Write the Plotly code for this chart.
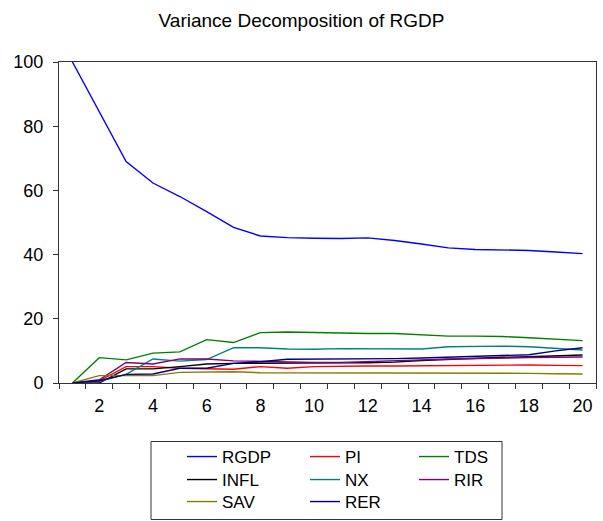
import plotly.graph_objects as go

periods = list(range(1, 21))
RGDP = [100, 84.6, 69.0, 62.3, 58.1, 53.4, 48.5, 45.8, 45.3, 45.1, 45.0, 45.2, 44.4, 43.3, 42.1, 41.6, 41.4, 41.3, 40.8, 40.3]
PI = [0, 0.7, 5.1, 5.1, 4.6, 4.4, 4.3, 5.1, 4.6, 5.1, 5.3, 5.3, 5.3, 5.4, 5.5, 5.6, 5.6, 5.6, 5.5, 5.4]
TDS = [0, 7.9, 7.2, 9.3, 9.7, 13.5, 12.6, 15.7, 15.9, 15.7, 15.5, 15.4, 15.4, 15.0, 14.6, 14.6, 14.5, 14.1, 13.7, 13.2]
INFL = [0, 0, 4.4, 4.4, 5.1, 5.9, 6.1, 6.2, 6.3, 6.3, 6.3, 6.3, 6.5, 7.0, 7.4, 7.8, 8.0, 8.2, 8.4, 8.7]
NX = [0, 0.5, 2.7, 7.5, 6.8, 7.3, 11.0, 11.0, 10.6, 10.5, 10.7, 10.7, 10.7, 10.6, 11.3, 11.5, 11.5, 11.3, 10.8, 10.3]
RIR = [0, 1.0, 6.4, 5.9, 7.5, 7.5, 6.9, 6.7, 6.4, 6.4, 6.4, 6.6, 6.8, 7.2, 7.5, 7.7, 7.8, 7.9, 8.0, 8.1]
SAV = [0, 2.3, 2.3, 2.3, 3.3, 3.3, 3.5, 3.2, 3.2, 3.2, 3.2, 3.1, 3.1, 3.0, 3.0, 3.0, 3.0, 3.0, 2.9, 2.8]
RER = [0, 0.7, 2.7, 2.8, 4.6, 4.6, 6.1, 6.6, 7.4, 7.4, 7.4, 7.4, 7.6, 7.8, 8.0, 8.2, 8.4, 8.8, 10.0, 11.0]

series = [
    ("RGDP", RGDP, "#0000FF"),
    ("PI", PI, "#FF0000"),
    ("TDS", TDS, "#008000"),
    ("INFL", INFL, "#000000"),
    ("NX", NX, "#008080"),
    ("RIR", RIR, "#800080"),
    ("SAV", SAV, "#808000"),
    ("RER", RER, "#000080"),
]

x_labels = list(range(2, 21, 2))
y_ticks = [0, 20, 40, 60, 80, 100]

W, H = 603, 521
L, R, T, B = 59, 7, 62, 138
PW, PH = W - L - R, H - T - B
font = "Arial, Liberation Sans, sans-serif"

# legend grid (3 columns, row-major): text left x and row centre y in pixels
col_text_x = [222, 345, 454]
row_center_y = [457, 480, 502]

fig = go.Figure()
legends = {}
for i, (name, vals, color) in enumerate(series):
    lid = "legend" if i == 0 else f"legend{i + 1}"
    r, c = divmod(i, 3)
    legends[lid] = dict(orientation="v", xref="paper", yref="paper",
                        x=(col_text_x[c] - 40 - L) / PW, xanchor="left",
                        y=(T + PH - (row_center_y[r] - 18)) / PH,
                        yanchor="top", bgcolor="rgba(0,0,0,0)", borderwidth=0,
                        font=dict(size=17, family=font))
    fig.add_trace(go.Scatter(x=periods, y=vals, mode="lines", name=name,
                             legend=lid, line=dict(color=color, width=1.4)))

fig.update_layout(
    width=W, height=H,
    margin=dict(l=L, r=R, t=T, b=B, autoexpand=False),
    paper_bgcolor="white", plot_bgcolor="white",
    font=dict(family=font, size=18, color="black"),
    title=dict(text="Variance Decomposition of RGDP", x=0.5, xanchor="center",
               y=1 - 20 / H, yanchor="middle", font=dict(size=19)),
    showlegend=True,
    shapes=[dict(type="rect", xref="paper", yref="paper",
                 x0=(151 - L) / PW, x1=(502 - L) / PW,
                 y0=(T + PH - 441.5) / PH, y1=(T + PH - 519.5) / PH,
                 line=dict(color="#333333", width=1), fillcolor="rgba(0,0,0,0)",
                 layer="above")],
    **legends,
)
fig.update_xaxes(range=[0.5, 20.5], tickmode="array", tickvals=x_labels,
                 ticktext=[str(v) for v in x_labels], ticks="", showgrid=False,
                 zeroline=False, showline=True, mirror=True, linecolor="#333333",
                 linewidth=1, tickfont=dict(size=18), ticklabelstandoff=6,
                 minor=dict(tick0=0.5, dtick=1, ticks="outside", ticklen=5,
                            tickcolor="#333333", tickwidth=1, showgrid=False))
fig.update_yaxes(range=[0, 100], tickmode="array", tickvals=y_ticks,
                 ticks="outside", ticklen=5, tickcolor="#333333", showgrid=False,
                 zeroline=False, showline=True, mirror=True, linecolor="#333333",
                 linewidth=1, tickfont=dict(size=18), ticklabelstandoff=6)

fig.write_html("out.html")
